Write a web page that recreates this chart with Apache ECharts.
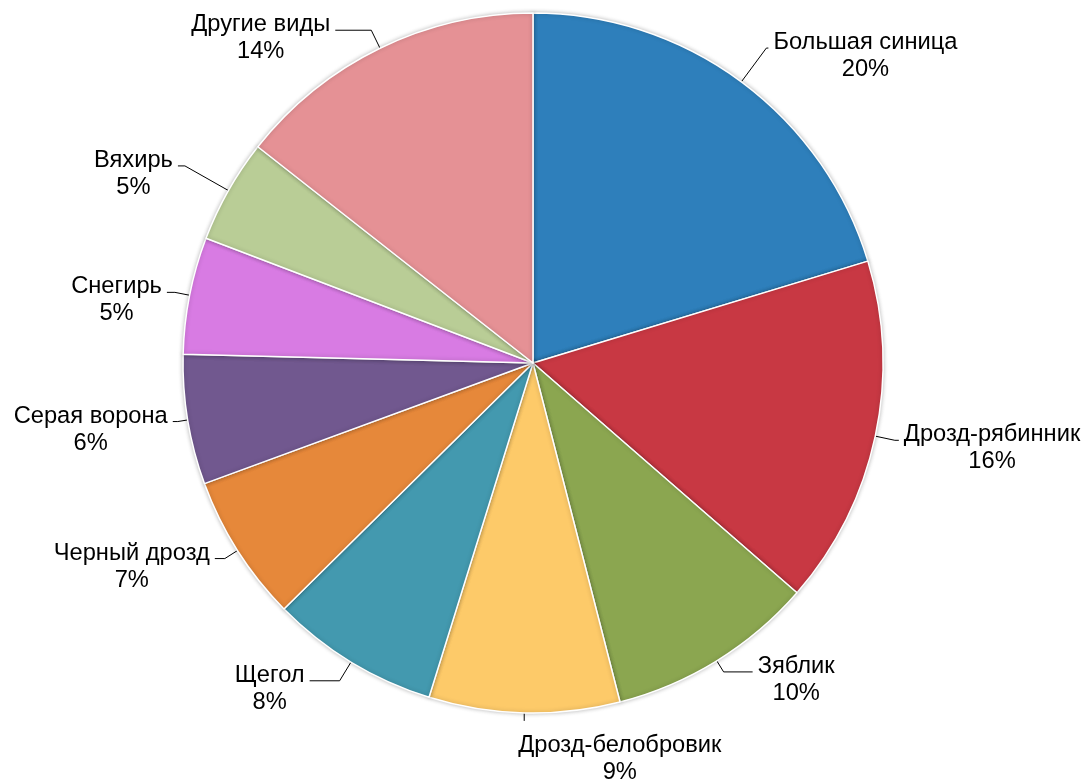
<!DOCTYPE html>
<html>
<head>
<meta charset="utf-8">
<title>Видовой состав птиц</title>
<script src="https://cdn.jsdelivr.net/npm/echarts@6/dist/echarts.min.js"></script>
<style>
  html, body { margin: 0; padding: 0; background: #ffffff; }
  #chart { width: 1084px; height: 780px; }
</style>
</head>
<body>
<div id="chart"></div>
<script>
// Доля видов птиц (в процентах)
const species = [
  'Большая синица', 'Дрозд-рябинник', 'Зяблик', 'Дрозд-белобровик', 'Щегол',
  'Черный дрозд', 'Серая ворона', 'Снегирь', 'Вяхирь', 'Другие виды'
];
const shares = [20.3, 16.1, 9.6, 8.8, 7.8, 6.8, 6.0, 5.4, 4.8, 14.4];
const colors = [
  '#2E7FBB', '#C83843', '#8BA650', '#FDCA69', '#4399AF',
  '#E6883A', '#71588F', '#D87BE3', '#B9CD96', '#E59195'
];
// Leader line segments for each label: [radial part, horizontal part]
const leaders = [
  [42, 2], [20, 4], [13, 29], [8, 8], [22, 30],
  [15, 10], [10, 5], [15, 8], [50, 7], [20, 36]
];

const CX = 533, CY = 363, R = 350;

const chart = echarts.init(document.getElementById('chart'), null, { renderer: 'canvas' });

chart.setOption({
  animation: false,
  backgroundColor: '#ffffff',
  series: [{
    type: 'pie',
    center: [CX, CY],
    radius: R,
    startAngle: 90,
    clockwise: true,
    avoidLabelOverlap: false,
    data: species.map((name, i) => ({
      name: name,
      value: shares[i],
      itemStyle: { color: colors[i] },
      labelLine: { length: leaders[i][0], length2: leaders[i][1] }
    })),
    itemStyle: {
      borderColor: '#ffffff',
      borderWidth: 1.5,
      shadowBlur: 4,
      shadowColor: 'rgba(0,0,0,0.25)'
    },
    label: {
      show: true,
      position: 'outside',
      fontFamily: 'Liberation Sans, Arial, sans-serif',
      fontSize: 23.7,
      lineHeight: 27,
      color: '#000000',
      formatter: p => p.name + '\n' + Math.round(p.percent) + '%'
    },
    labelLine: {
      show: true,
      lineStyle: { color: '#000000', width: 1 }
    },
    // Two-line labels are centred; a label right under the pie hangs
    // below a short vertical leader instead of beside it.
    labelLayout: function (p) {
      const r = p.labelRect;
      const pts = p.labelLinePoints;
      const p0 = pts[0];
      if (p0[1] > CY && Math.abs(p0[0] - CX) < 40) {
        return {
          align: 'center',
          verticalAlign: 'middle',
          x: p0[0] + r.width / 2 - 6,
          y: p0[1] + 46,
          labelLinePoints: [p0, [p0[0], p0[1] + 8], [p0[0], p0[1] + 8]]
        };
      }
      return {
        align: 'center',
        x: r.x + r.width / 2,
        dy: 8,
        labelLinePoints: pts
      };
    },
    emphasis: { disabled: true }
  }]
});
</script>
</body>
</html>
